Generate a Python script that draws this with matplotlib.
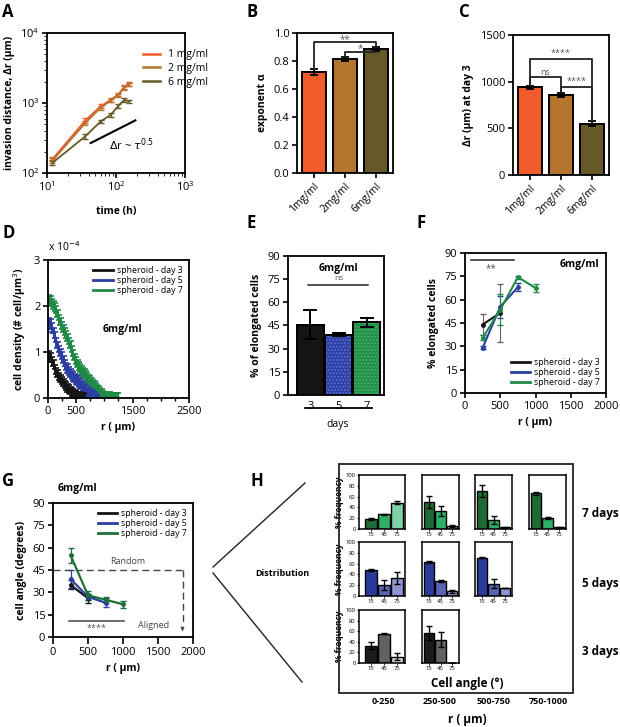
import matplotlib
matplotlib.use('Agg')
import matplotlib.pyplot as plt
from matplotlib.lines import Line2D
from matplotlib.patches import Rectangle

plt.rcParams['font.family'] = ['Open Sans', 'DejaVu Sans']
plt.rcParams['axes.linewidth'] = 1.3
plt.rcParams['xtick.major.width'] = 1.2
plt.rcParams['ytick.major.width'] = 1.2
plt.rcParams['xtick.labelsize'] = 8
plt.rcParams['ytick.labelsize'] = 8
plt.rcParams['xtick.major.pad'] = 2
plt.rcParams['ytick.major.pad'] = 2

# ---------------- data ----------------
# A
time_h = [12, 36, 60, 84, 108, 132, 156]
dist_1mg = [158, 565, 900, 1110, 1330, 1700, 1880]
dist_2mg = [150, 520, 860, 1080, 1300, 1650, 1850]
dist_6mg = [140, 335, 545, 680, 910, 1110, 1050]
err_1mg = [12, 40, 60, 60, 70, 100, 110]
err_2mg = [12, 35, 55, 55, 65, 95, 100]
err_6mg = [12, 25, 35, 40, 60, 70, 50]
slope_t = [43, 191]
slope_r = [268, 565]
# B
conc_labels = ['1mg/ml', '2mg/ml', '6mg/ml']
alpha_vals = [0.72, 0.815, 0.885]
alpha_err = [0.02, 0.015, 0.015]
# C
dr_day3 = [940, 860, 550]
dr_day3_err = [15, 20, 25]
# D  (cell density, units of 1e-4 cell/um^3)
r_d3 = [0, 25, 50, 75, 100, 125, 150, 175, 200, 225, 250, 275, 300, 325, 350, 375, 400,
        425, 450, 475, 500, 525, 550, 575, 600, 625, 650]
dens_d3 = [0.88, 0.92, 0.88, 0.80, 0.72, 0.62, 0.55, 0.50, 0.45, 0.40, 0.36, 0.32, 0.28,
           0.24, 0.21, 0.18, 0.15, 0.12, 0.10, 0.08, 0.06, 0.04, 0.03, 0.02, 0.01, 0.005, 0.0]
r_d5 = [0, 25, 50, 75, 100, 125, 150, 175, 200, 225, 250, 275, 300, 325, 350, 375, 400,
        425, 450, 475, 500, 525, 550, 575, 600, 625, 650, 675, 700, 725, 750, 775, 800,
        825, 850, 875, 900]
dens_d5 = [1.55, 1.62, 1.60, 1.52, 1.42, 1.32, 1.20, 1.10, 1.02, 0.95, 0.88, 0.80, 0.72,
           0.66, 0.62, 0.57, 0.52, 0.48, 0.45, 0.42, 0.39, 0.36, 0.33, 0.30, 0.27, 0.24,
           0.20, 0.17, 0.14, 0.11, 0.08, 0.06, 0.04, 0.03, 0.02, 0.01, 0.0]
r_d7 = [0, 25, 50, 75, 100, 125, 150, 175, 200, 225, 250, 275, 300, 325, 350, 375, 400,
        425, 450, 475, 500, 525, 550, 575, 600, 625, 650, 675, 700, 725, 750, 775, 800,
        825, 850, 875, 900, 925, 950, 975, 1000, 1025, 1050, 1075, 1100, 1125, 1150, 1175,
        1200, 1225, 1250]
dens_d7 = [2.10, 2.12, 2.10, 2.05, 2.00, 1.95, 1.88, 1.80, 1.70, 1.62, 1.55, 1.48, 1.42,
           1.35, 1.28, 1.20, 1.12, 1.02, 0.93, 0.85, 0.78, 0.72, 0.67, 0.62, 0.58, 0.55,
           0.52, 0.48, 0.44, 0.40, 0.36, 0.32, 0.28, 0.25, 0.22, 0.18, 0.15, 0.11, 0.08,
           0.05, 0.03, 0.02, 0.015, 0.01, 0.01, 0.005, 0.005, 0.004, 0.003, 0.002, 0.0]
dens_err = {'d3': 0.1, 'd5': 0.11, 'd7': 0.11}
# E
day_labels = ['3', '5', '7']
elong_pct = [45.5, 39, 47]
elong_err = [9.5, 1, 3]
# F
rf_d3 = [250, 500]; f_d3 = [44, 51.5]; fe_d3 = [7, 18.5]
rf_d5 = [250, 500, 750]; f_d5 = [29, 55.5, 68]; fe_d5 = [1, 7, 2.5]
rf_d7 = [250, 500, 750, 1000]; f_d7 = [35.5, 53.5, 74.5, 67.5]; fe_d7 = [1.5, 10, 1, 2.5]
# G
rg_d3 = [250, 500]; g_d3 = [35, 26]; ge_d3 = [3, 3]
rg_d5 = [250, 500, 750]; g_d5 = [39, 27, 23]; ge_d5 = [6, 2, 3]
rg_d7 = [250, 500, 750, 1000]; g_d7 = [55, 28, 25, 22]; ge_d7 = [5, 3, 2, 2.5]
# H
angle_bins = ['15', '45', '75']
r_bins = ['0-250', '250-500', '500-750', '750-1000']
h_day7 = [[19, 27, 49], [50, 34, 5], [71, 17, 3], [66, 21, 3]]
h_day7_err = [[2, 1, 3], [12, 9, 2], [11, 8, 1], [3, 2, 1]]
h_day5 = [[48, 21, 34], [63, 28, 9], [71, 23, 15]]
h_day5_err = [[2, 9, 11], [2, 2, 3], [1, 8, 0]]
h_day3 = [[33, 55, 12], [57, 44, 0]]
h_day3_err = [[6, 1, 6], [13, 14, 0]]

C1, C2, C6 = '#F15A2B', '#B5752F', '#655A27'
CK, CB, CG = '#151515', '#2B3FA3', '#1F8A45'

W, H = 620, 727
fig = plt.figure(figsize=(W / 100, H / 100), dpi=100)


def ax_px(x0, y0, x1, y1):
    return fig.add_axes([x0 / W, 1 - y1 / H, (x1 - x0) / W, (y1 - y0) / H])


def ftext(x, y, s, **kw):
    fig.text(x / W, 1 - y / H, s, **kw)


def fline(xs, ys, **kw):
    fig.add_artist(Line2D([x / W for x in xs], [1 - y / H for y in ys],
                          transform=fig.transFigure, **kw))


def bold_label(ax, xl=None, yl=None, size=7.5):
    if xl:
        ax.set_xlabel(xl, fontweight='bold', fontsize=size)
    if yl:
        ax.set_ylabel(yl, fontweight='bold', fontsize=size)


def bracket(ax, x0, x1, y, y0, y1, txt, ty, fs=7, color='#222222'):
    ax.plot([x0, x0, x1, x1], [y0, y, y, y1], color=color, lw=1.3, clip_on=False)
    ax.text((x0 + x1) / 2, ty, txt, ha='center', va='center', fontsize=fs, color='#555555')


# ---------------- A ----------------
axA = ax_px(47, 33, 185, 173)
for vals, err, col, lab in [(dist_1mg, err_1mg, C1, '1 mg/ml'), (dist_2mg, err_2mg, C2, '2 mg/ml'),
                            (dist_6mg, err_6mg, C6, '6 mg/ml')]:
    axA.errorbar(time_h, vals, yerr=err, color=col, lw=1.3, capsize=2, elinewidth=1)
axA.plot(slope_t, slope_r, color='black', lw=1.5)
axA.text(80, 250, r'$\Delta$r ~ $\tau^{0.5}$', fontsize=8, va='center')
axA.set_xscale('log'); axA.set_yscale('log')
axA.set_xlim(10, 1000); axA.set_ylim(100, 10000)
axA.tick_params(which='both', direction='out')
bold_label(axA, 'time (h)', 'invasion distance, Δr (μm)')
axA.xaxis.labelpad = 8
hA = [Line2D([], [], color=c, lw=1.8) for c in [C1, C2, C6]]
leg = axA.legend(hA, ['1 mg/ml', '2 mg/ml', '6 mg/ml'], loc='upper left',
                 bbox_to_anchor=(0.66, 0.92), frameon=False, fontsize=7.5,
                 handlelength=1.6, labelspacing=0.25, borderpad=0)
for t in leg.get_texts():
    t.set_clip_on(False)

# ---------------- B ----------------
axB = ax_px(297, 33, 393, 173)
axB.bar(range(3), alpha_vals, width=0.78, color=[C1, C2, C6], edgecolor='black', lw=1.4,
        yerr=alpha_err, capsize=3, error_kw=dict(elinewidth=1.3, capthick=1.3))
axB.set_ylim(0, 1.0); axB.set_xlim(-0.55, 2.55)
axB.set_yticks([0, 0.2, 0.4, 0.6, 0.8, 1.0])
axB.set_yticklabels(['0.0', '0.2', '0.4', '0.6', '0.8', '1.0'])
axB.set_xticks(range(3))
axB.set_xticklabels(conc_labels, rotation=45, ha='right', rotation_mode='anchor', fontsize=7.5)
bold_label(axB, None, 'exponent α')
bracket(axB, 0, 2, 0.935, 0.745, 0.905, '**', 0.955)
bracket(axB, 1, 2, 0.862, 0.835, 0.862, '*', 0.885)

# ---------------- C ----------------
axC = ax_px(513, 35, 609, 175)
axC.bar(range(3), dr_day3, width=0.78, color=[C1, C2, C6], edgecolor='black', lw=1.4,
        yerr=dr_day3_err, capsize=3, error_kw=dict(elinewidth=1.3, capthick=1.3))
axC.set_ylim(0, 1500); axC.set_xlim(-0.55, 2.55)
axC.set_yticks([0, 500, 1000, 1500])
axC.set_xticks(range(3))
axC.set_xticklabels(conc_labels, rotation=45, ha='right', rotation_mode='anchor', fontsize=7.5)
bold_label(axC, None, 'Δr (μm) at day 3')
bracket(axC, 0, 2, 1240, 960, 580, '****', 1300, fs=6.5)
bracket(axC, 0, 1, 1045, 960, 885, 'ns', 1100, fs=6.5)
bracket(axC, 1, 2, 945, 885, 580, '****', 1000, fs=6.5)

# ---------------- D ----------------
axD = ax_px(48, 260, 189, 398)
for r, d, col, key, lab in [(r_d7, dens_d7, CG, 'd7', 'spheroid - day 7'),
                            (r_d5, dens_d5, CB, 'd5', 'spheroid - day 5'),
                            (r_d3, dens_d3, CK, 'd3', 'spheroid - day 3')]:
    axD.errorbar(r, d, yerr=dens_err[key], color=col, lw=2, elinewidth=1.4, capsize=1.8,
                 capthick=1.2, label=lab)
axD.set_xlim(0, 2500); axD.set_ylim(0, 3)
axD.set_xticks([0, 500, 1500, 2500])
axD.set_xticks(range(0, 2501, 250), minor=True)
axD.set_yticks([0, 1, 2, 3])
axD.tick_params(which='minor', length=2.5, width=1)
bold_label(axD, 'r ( μm)', 'cell density (# cell/μm$^3$)')
axD.text(0.0, 1.04, r'x 10$^{-4}$', transform=axD.transAxes, fontsize=7.5, va='bottom')
axD.text(960, 1.5, '6mg/ml', fontsize=7.5, fontweight='bold', va='center')
hl = [Line2D([], [], color=c, lw=2) for c in [CK, CB, CG]]
axD.legend(hl, ['spheroid - day 3', 'spheroid - day 5', 'spheroid - day 7'], loc='upper right',
           frameon=False, fontsize=6.3, handlelength=2.2,
           labelspacing=0.1, borderaxespad=0.3, handletextpad=0.5)

# ---------------- E ----------------
axE = ax_px(288, 256, 384, 395)
axE.bar(range(3), elong_pct, width=0.97, color=[CK, '#2B3FA3', '#1E8F48'], edgecolor='black', lw=1.4,
        yerr=elong_err, capsize=5, error_kw=dict(elinewidth=1.4, capthick=1.4))
axE.bar([1, 2], [elong_pct[1], elong_pct[2]], width=0.97, color='none',
        edgecolor=['#5a6fd0', '#46b06a'], lw=0, hatch='.....')
axE.bar(range(3), elong_pct, width=0.97, color='none', edgecolor='black', lw=1.4)
axE.set_ylim(0, 90); axE.set_xlim(-0.8, 2.62)
axE.set_yticks(range(0, 91, 15))
axE.set_xticks(range(3)); axE.set_xticklabels(day_labels, fontsize=8)
axE.tick_params(axis='x', length=0, pad=4)
bold_label(axE, None, '% of elongated cells')
axE.text(1, 82, '6mg/ml', ha='center', va='center', fontsize=7.5, fontweight='bold')
axE.plot([-0.1, 2.05], [71.5, 71.5], color='#222222', lw=1.1)
axE.text(1, 75.5, 'ns', ha='center', va='center', fontsize=6, color='#555555')
fline([305, 372], [408, 408], color='black', lw=1.3)
ftext(338, 424, 'days', ha='center', va='center', fontsize=7.5)

# ---------------- F ----------------
axF = ax_px(465, 253, 606, 393)
for r, v, e, col, lab in [(rf_d3, f_d3, fe_d3, CK, 'spheroid - day 3'),
                          (rf_d5, f_d5, fe_d5, CB, 'spheroid - day 5'),
                          (rf_d7, f_d7, fe_d7, CG, 'spheroid - day 7')]:
    axF.errorbar(r, v, yerr=e, color=col, lw=1.5, elinewidth=0.8, capsize=2, marker='o',
                 ms=2.5, label=lab, ecolor=col if col != CK else '#666666')
axF.set_xlim(0, 2000); axF.set_ylim(0, 90)
axF.set_xticks([0, 500, 1000, 1500, 2000]); axF.set_yticks(range(0, 91, 15))
bold_label(axF, 'r ( μm)', '% elongated cells')
axF.plot([85, 690], [85.3, 85.3], color='#222222', lw=1.1)
axF.text(370, 80, '**', ha='center', va='center', fontsize=7, color='#555555')
axF.text(1900, 82.5, '6mg/ml', ha='right', va='center', fontsize=7.5, fontweight='bold')
hl = [Line2D([], [], color=c, lw=2) for c in [CK, CB, CG]]
axF.legend(hl, ['spheroid - day 3', 'spheroid - day 5', 'spheroid - day 7'], loc='lower right',
           frameon=False, fontsize=6.3, handlelength=2.2,
           labelspacing=0.1, borderaxespad=0.3, handletextpad=0.5)

# ---------------- G ----------------
axG = ax_px(53, 503, 193, 637)
for r, v, e, col, lab in [(rg_d3, g_d3, ge_d3, CK, 'spheroid - day 3'),
                          (rg_d5, g_d5, ge_d5, CB, 'spheroid - day 5'),
                          (rg_d7, g_d7, ge_d7, '#1E6E38', 'spheroid - day 7')]:
    axG.errorbar(r, v, yerr=e, color=col, lw=1.6, elinewidth=0.9, capsize=2, marker='o',
                 ms=2.5, label=lab)
axG.set_xlim(0, 2000); axG.set_ylim(0, 90)
axG.set_xticks([0, 500, 1000, 1500, 2000]); axG.set_yticks(range(0, 91, 15))
axG.tick_params(axis='x', length=5)
bold_label(axG, 'r ( μm)', 'cell angle (degrees)')
axG.plot([0, 1850], [45, 45], color='#444444', lw=1, ls=(0, (5, 3)))
axG.plot([1850, 1850], [45, 8], color='#444444', lw=1, ls=(0, (5, 3)))
axG.annotate('', xy=(1850, 2), xytext=(1850, 7),
             arrowprops=dict(arrowstyle='-|>', color='#444444', lw=0.8, mutation_scale=5))
axG.text(1060, 50.5, 'Random', ha='center', va='center', fontsize=6.5, color='#444444')
axG.text(1430, 8, 'Aligned', ha='center', va='center', fontsize=6.5, color='#444444')
axG.plot([230, 1010], [11, 11], color='#444444', lw=1.1)
axG.text(620, 6, '****', ha='center', va='center', fontsize=6.5, color='#555555')
axG.text(0.03, 1.07, '6mg/ml', transform=axG.transAxes, fontsize=7.5, fontweight='bold', va='bottom')
hl = [Line2D([], [], color=c, lw=2) for c in [CK, CB, '#1E6E38']]
axG.legend(hl, ['spheroid - day 3', 'spheroid - day 5', 'spheroid - day 7'], loc='upper right',
           frameon=False, fontsize=6.3, handlelength=2.2, labelspacing=0.1,
           borderaxespad=0.3, handletextpad=0.5)

# ---------------- H ----------------
fig.add_artist(Rectangle((339 / W, 1 - 693 / H), (573 - 339) / W, (693 - 464) / H,
                         transform=fig.transFigure, fill=False, lw=1.3, ec='#222222'))
cols_px = [(359, 405), (422, 459), (475, 512), (529, 566)]
rows_px = [(475, 529), (542, 596), (610, 663)]
row_data = [(h_day7, h_day7_err, ['#1E6B33', '#2EAE66', '#80D1A5']),
            (h_day5, h_day5_err, ['#2A3A9A', '#5964B3', '#8E95D2']),
            (h_day3, h_day3_err, ['#1C1C1C', '#616161', '#D8D8D8'])]
for ri, (vals, errs, cols) in enumerate(row_data):
    y0, y1 = rows_px[ri]
    for ci, (v, e) in enumerate(zip(vals, errs)):
        x0, x1 = cols_px[ci]
        ax = ax_px(x0, y0, x1, y1)
        ax.bar(range(3), v, width=0.88, color=cols, edgecolor='black', lw=1,
               yerr=e, capsize=2, error_kw=dict(elinewidth=1, capthick=1))
        ax.set_ylim(0, 100)
        ax.set_xlim(-0.9 if ci == 0 else -0.6, 2.6)
        ax.set_xticks(range(3)); ax.set_xticklabels(angle_bins, fontsize=4.2)
        for s in ax.spines.values():
            s.set_linewidth(1.1)
        ax.tick_params(axis='x', length=1.5, width=0.6, pad=1)
        if ci == 0:
            ax.set_yticks(range(0, 101, 20))
            ax.tick_params(axis='y', labelsize=4.2, length=1.5, width=0.6, pad=1)
            ax.set_ylabel('% frequency', fontsize=6, fontweight='bold', labelpad=1)
        else:
            ax.set_yticks([])

ftext(600, 513, '7 days', ha='center', va='center', fontsize=8.5, fontweight='bold')
ftext(600, 583, '5 days', ha='center', va='center', fontsize=8.5, fontweight='bold')
ftext(600, 652, '3 days', ha='center', va='center', fontsize=8.5, fontweight='bold')
ftext(467, 683, 'Cell angle (°)', ha='center', va='center', fontsize=8.5, fontweight='bold')
for lab, xc in zip(r_bins, [383, 440, 494, 548]):
    ftext(xc, 702, lab, ha='center', va='center', fontsize=6.5, fontweight='bold')
ftext(467, 719, 'r ( μm)', ha='center', va='center', fontsize=8.5, fontweight='bold')
ftext(282, 573, 'Distribution', ha='center', va='center', fontsize=6.5, fontweight='bold')
fline([213, 305], [567, 483], color='#222222', lw=1)
fline([213, 302], [573, 682], color='#222222', lw=1)

# panel letters
for lab, x, y in [('A', 2, 12), ('B', 247, 12), ('C', 459, 12), ('D', 2, 233), ('E', 247, 223),
                  ('F', 416, 223), ('G', 2, 481), ('H', 251, 481)]:
    ftext(x, y, lab, fontsize=12, fontweight='bold', va='center', ha='left')

fig.savefig('out.png', dpi=100)
